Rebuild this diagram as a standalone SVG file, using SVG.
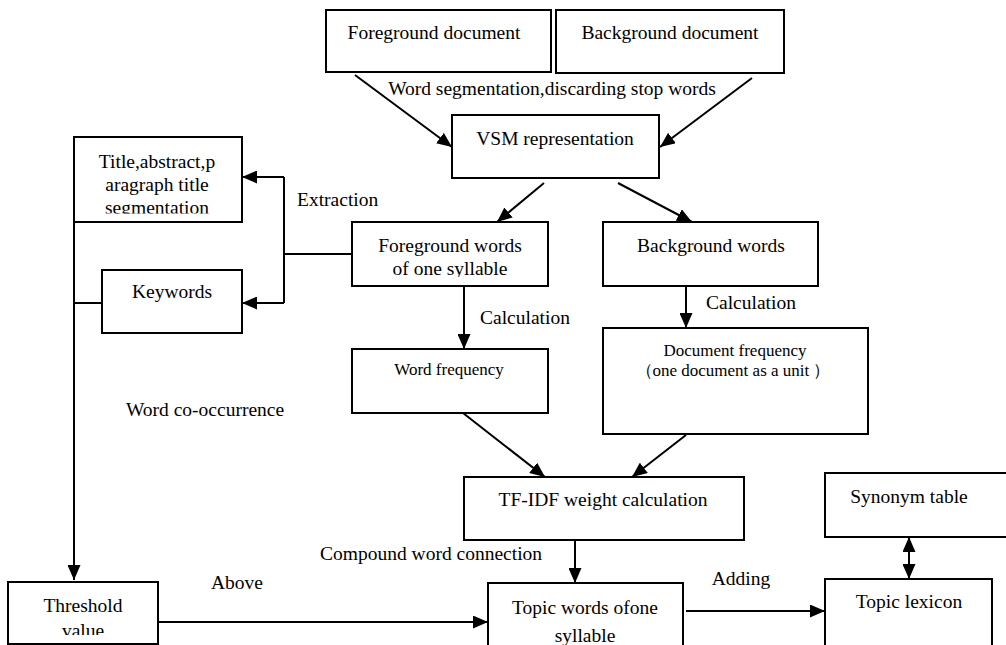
<svg xmlns="http://www.w3.org/2000/svg" width="1006" height="645" viewBox="0 0 1006 645">
<style>
.box{fill:#fff;stroke:#000;stroke-width:2}
.t{font-family:'Liberation Serif','Times New Roman','DejaVu Serif',serif;font-size:19.5px;fill:#000;text-anchor:middle}
.s{font-size:17px}
.l{font-family:'Liberation Serif','Times New Roman','DejaVu Serif',serif;font-size:19.5px;fill:#000}
.c{fill:none;stroke:#000;stroke-width:2}
</style>
<defs>
<marker id="ah" markerUnits="userSpaceOnUse" markerWidth="15" markerHeight="13" refX="15" refY="6.5" orient="auto">
<path d="M0,0 L15,6.5 L0,13 z" fill="#000"/>
</marker>
<marker id="ahs" markerUnits="userSpaceOnUse" markerWidth="15" markerHeight="13" refX="0" refY="6.5" orient="auto">
<path d="M15,0 L0,6.5 L15,13 z" fill="#000"/>
</marker>
<clipPath id="cTitle"><rect x="74" y="137" width="168" height="76.5"/></clipPath>
<clipPath id="cFw"><rect x="352" y="222" width="196" height="55"/></clipPath>
<clipPath id="cThr"><rect x="8" y="582" width="150" height="53"/></clipPath>
</defs>

<g id="connectors">
<line class="c" x1="355" y1="75" x2="452" y2="147" marker-end="url(#ah)"/>
<line class="c" x1="752" y1="78" x2="660" y2="147" marker-end="url(#ah)"/>
<line class="c" x1="544" y1="183" x2="497" y2="222" marker-end="url(#ah)"/>
<line class="c" x1="618" y1="183" x2="692" y2="222" marker-end="url(#ah)"/>
<polyline class="c" points="352,254 284,254"/>
<line class="c" x1="284" y1="177" x2="284" y2="303"/>
<line class="c" x1="284" y1="177" x2="242" y2="177" marker-end="url(#ah)"/>
<line class="c" x1="284" y1="303" x2="242" y2="303" marker-end="url(#ah)"/>
<line class="c" x1="74" y1="222" x2="74" y2="580" marker-end="url(#ah)"/>
<line class="c" x1="74" y1="303" x2="102" y2="303"/>
<line class="c" x1="464" y1="286" x2="464" y2="349" marker-end="url(#ah)"/>
<line class="c" x1="686" y1="286" x2="686" y2="328" marker-end="url(#ah)"/>
<line class="c" x1="463" y1="413" x2="545" y2="477" marker-end="url(#ah)"/>
<line class="c" x1="686" y1="435" x2="632" y2="477" marker-end="url(#ah)"/>
<line class="c" x1="575" y1="540" x2="575" y2="583" marker-end="url(#ah)"/>
<line class="c" x1="158" y1="622" x2="488" y2="622" marker-end="url(#ah)"/>
<line class="c" x1="686" y1="611" x2="825" y2="611" marker-end="url(#ah)"/>
<line class="c" x1="909" y1="537" x2="909" y2="579" marker-start="url(#ahs)" marker-end="url(#ah)"/>
<text class="l" x="552" y="95" text-anchor="middle">Word segmentation,discarding stop words</text>
<text class="l" x="297" y="206">Extraction</text>
<text class="l" x="480" y="324">Calculation</text>
<text class="l" x="706" y="309">Calculation</text>
<text class="l" x="126" y="416">Word co-occurrence</text>
<text class="l" x="320" y="560">Compound word connection</text>
<text class="l" x="211" y="589">Above</text>
<text class="l" x="741" y="585" text-anchor="middle">Adding</text>
</g>

<g id="foreground-document">
<rect class="box" x="326" y="10" width="225" height="62"/>
<text class="t" x="434" y="39">Foreground document</text>
</g>
<g id="background-document">
<rect class="box" x="556" y="10" width="228" height="63"/>
<text class="t" x="670" y="39">Background document</text>
</g>
<g id="vsm">
<rect class="box" x="452" y="115" width="207" height="63"/>
<text class="t" x="555" y="145">VSM representation</text>
</g>
<g id="title-abstract">
<rect class="box" x="74" y="137" width="168" height="85"/>
<g clip-path="url(#cTitle)">
<text class="t" x="157" y="168">Title,abstract,p</text>
<text class="t" x="157" y="191">aragraph title</text>
<text class="t" x="157" y="214">segmentation</text>
</g>
</g>
<g id="keywords">
<rect class="box" x="102" y="270" width="140" height="63"/>
<text class="t" x="172" y="298">Keywords</text>
</g>
<g id="foreground-words">
<rect class="box" x="352" y="222" width="196" height="64"/>
<g clip-path="url(#cFw)">
<text class="t" x="450" y="252">Foreground words</text>
<text class="t" x="450" y="275">of one syllable</text>
</g>
</g>
<g id="background-words">
<rect class="box" x="603" y="222" width="215" height="64"/>
<text class="t" x="711" y="252">Background words</text>
</g>
<g id="word-frequency">
<rect class="box" x="352" y="349" width="196" height="64"/>
<text class="t s" x="449" y="375">Word frequency</text>
</g>
<g id="document-frequency">
<rect class="box" x="603" y="328" width="265" height="106"/>
<text class="t s" x="735" y="356">Document frequency</text>
<text class="t s" x="733" y="376">（one document as a unit ）</text>
</g>
<g id="tf-idf">
<rect class="box" x="464" y="477" width="280" height="63"/>
<text class="t" x="603" y="506">TF-IDF weight calculation</text>
</g>
<g id="synonym-table">
<rect class="box" x="825" y="473" width="200" height="64"/>
<text class="t" x="909" y="503">Synonym table</text>
</g>
<g id="threshold">
<rect class="box" x="8" y="582" width="150" height="62"/>
<g clip-path="url(#cThr)">
<text class="t" x="83" y="612">Threshold</text>
<text class="t" x="83" y="637">value</text>
</g>
</g>
<g id="topic-words">
<rect class="box" x="488" y="583" width="195" height="70"/>
<text class="t" x="585" y="614">Topic words ofone</text>
<text class="t" x="585" y="642">syllable</text>
</g>
<g id="topic-lexicon">
<rect class="box" x="825" y="579" width="167" height="74"/>
<text class="t" x="909" y="608">Topic lexicon</text>
</g>
</svg>
